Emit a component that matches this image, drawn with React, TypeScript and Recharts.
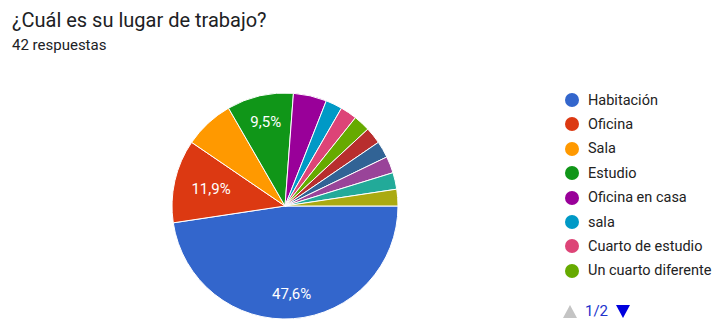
import { Cell, Pie, PieChart } from 'recharts';

const categories = [
  'Habitación',
  'Oficina',
  'Sala',
  'Estudio',
  'Oficina en casa',
  'sala',
  'Cuarto de estudio',
  'Un cuarto diferente',
  'Otro 1',
  'Otro 2',
  'Otro 3',
  'Otro 4',
  'Otro 5',
];
const counts = [20, 5, 3, 4, 2, 1, 1, 1, 1, 1, 1, 1, 1];
const colors = [
  '#3366cc', '#dc3912', '#ff9900', '#109618', '#990099', '#0099c6', '#dd4477',
  '#66aa00', '#b82e2e', '#316395', '#994499', '#22aa99', '#aaaa11',
];
const total = 42;
const legendVisible = 8;

const data = categories.map((name, i) => ({ name, value: counts[i], color: colors[i] }));

const RAD = Math.PI / 180;
const font = 'Roboto, Arial, sans-serif';

// etiqueta dentro del sector; se acerca al centro cuando el texto queda horizontal
function renderLabel(props: any) {
  const { cx, cy, midAngle, outerRadius, value } = props;
  const share = value / total;
  if (share < 0.08) return null;
  const c = Math.cos(-midAngle * RAD);
  const s = Math.sin(-midAngle * RAD);
  const r = outerRadius - 23.5 - 14 * Math.abs(c);
  return (
    <text x={cx + r * c} y={cy + r * s} fill="#fff" fontSize={15} fontFamily={font} textAnchor="middle" dominantBaseline="central">
      {(share * 100).toFixed(1).replace('.', ',')}%
    </text>
  );
}

export default function App() {
  return (
    <div style={{ position: 'fixed', top: 0, left: 0, width: 715, height: 320, background: '#fff', fontFamily: font }}>
      <div style={{ position: 'absolute', left: 12, top: 7, fontSize: 20, color: '#202124', lineHeight: '26px' }}>
        ¿Cuál es su lugar de trabajo?
      </div>
      <div style={{ position: 'absolute', left: 12, top: 35, fontSize: 15, color: '#202124', lineHeight: '20px' }}>
        {total} respuestas
      </div>
      <div style={{ position: 'absolute', left: 0, top: 0 }}>
        <PieChart width={715} height={320} margin={{ top: 0, right: 0, bottom: 0, left: 0 }}>
          <Pie
            data={data}
            dataKey="value"
            nameKey="name"
            cx={285}
            cy={206}
            outerRadius={113}
            startAngle={0}
            endAngle={-360}
            stroke="#fff"
            strokeWidth={1}
            label={renderLabel}
            labelLine={false}
            isAnimationActive={false}
          >
            {data.map((slice) => (
              <Cell key={slice.name} fill={slice.color} />
            ))}
          </Pie>
        </PieChart>
      </div>
      {data.slice(0, legendVisible).map((slice, i) => (
        <div
          key={slice.name}
          style={{
            position: 'absolute',
            left: 565,
            top: 90 + i * 24.4,
            height: 20,
            display: 'flex',
            alignItems: 'center',
            fontSize: 14.5,
            color: '#222',
            whiteSpace: 'nowrap',
          }}
        >
          <span style={{ width: 14, height: 14, borderRadius: 7, background: slice.color, marginRight: 9, flexShrink: 0 }} />
          {slice.name}
        </div>
      ))}
      <div style={{ position: 'absolute', left: 563, top: 302, height: 18, display: 'flex', alignItems: 'center' }}>
        <svg width={14} height={13}>
          <polygon points="7,0 14,13 0,13" fill="#c4c4c4" />
        </svg>
        <span style={{ color: '#2233cc', fontSize: 15, marginLeft: 8 }}>1/2</span>
        <svg width={14} height={13} style={{ marginLeft: 8 }}>
          <polygon points="0,0 14,0 7,13" fill="#0000dd" />
        </svg>
      </div>
    </div>
  );
}
